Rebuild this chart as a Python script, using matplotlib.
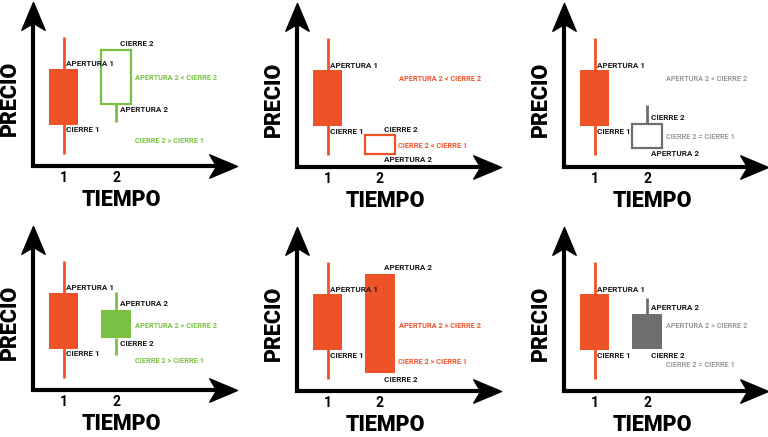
import matplotlib.pyplot as plt
from matplotlib.path import Path

plt.rcParams['font.family'] = ['Roboto', 'DejaVu Sans']

# candle 1 (same in every panel): open, close, high, low
open_1, close_1, high_1, low_1 = 9.7, 4.1, 12.9, 1.2

# candle 2 for each of the six panels
open_2 = [6.2, 1.3, 1.9, 8.0, 11.7, 7.7]
close_2 = [11.6, 3.2, 4.3, 5.2, 1.8, 4.2]
high_2 = [11.6, 3.2, 6.2, 9.8, 11.7, 9.3]
low_2 = [4.4, 1.3, 1.9, 3.5, 1.8, 4.2]
filled_2 = [False, False, False, True, True, True]

note_top = ['APERTURA 2 < CIERRE 2', 'APERTURA 2 < CIERRE 2', 'APERTURA 2 < CIERRE 2',
            'APERTURA 2 > CIERRE 2', 'APERTURA 2 > CIERRE 2', 'APERTURA 2 > CIERRE 2']
note_bottom = ['CIERRE 2 > CIERRE 1', 'CIERRE 2 < CIERRE 1', 'CIERRE 2 = CIERRE 1',
               'CIERRE 2 > CIERRE 1', 'CIERRE 2 > CIERRE 1', 'CIERRE 2 = CIERRE 1']
time_labels = ['1', '2']

# layout
RED = '#f05228'
GREEN = '#7ac143'
GRAY = '#6e6e6e'
GRAY_TXT = '#8c8c8c'
panel_color = [GREEN, RED, GRAY, GREEN, RED, GRAY]
note_color = [GREEN, RED, GRAY_TXT, GREEN, RED, GRAY_TXT]
note_weight = ['bold', 'bold', 'medium', 'bold', 'bold', 'medium']
origins = [(33, 166), (297, 167), (564, 167), (33, 390), (297, 391), (564, 391)]
note_pos = [((2.36, 8.8), (2.36, 2.5)), ((2.36, 8.8), (2.34, 2.1)), ((2.36, 8.8), (2.36, 3.0)),
            ((2.36, 6.4), (2.36, 2.9)), ((2.36, 6.5), (2.34, 2.9)), ((2.36, 6.5), (2.36, 2.6))]

W, H = 768, 437
AX_W, AX_H = 204, 164
X0 = 1 - 30.5 / 52.5
BODY_W = 0.57

# notched arrow heads, tip at the origin
up_head = Path([(0, 0), (0.42, -1), (0, -0.75), (-0.42, -1), (0, 0)],
               [Path.MOVETO, Path.LINETO, Path.LINETO, Path.LINETO, Path.CLOSEPOLY])
right_head = Path([(0, 0), (-1, 0.42), (-0.75, 0), (-1, -0.42), (0, 0)],
                  [Path.MOVETO, Path.LINETO, Path.LINETO, Path.LINETO, Path.CLOSEPOLY])

fig = plt.figure(figsize=(W / 100, H / 100), dpi=100)
fig.patch.set_facecolor('white')


def label(ax, x, y, s):
    ax.text(x, y, s, fontsize=5.9, fontweight='bold', color='#1a1a1a', va='center',
            ha='left', zorder=5)


for i, (ox, oy) in enumerate(origins):
    ax = fig.add_axes([ox / W, (H - oy) / H, AX_W / W, AX_H / H])
    ax.set_xlim(X0, X0 + AX_W / 52.5)
    ax.set_ylim(0, 16.4)
    for s in ax.spines.values():
        s.set_visible(False)
    ax.patch.set_alpha(0)

    # axes with arrows
    ax.plot([0, 0], [0, 0.9], color='black', lw=3, transform=ax.transAxes, clip_on=False,
            solid_capstyle='butt')
    ax.plot([0, 0.93], [0, 0], color='black', lw=3, transform=ax.transAxes, clip_on=False,
            solid_capstyle='projecting')
    ax.plot([0], [1], marker=up_head, markersize=40, color='black', transform=ax.transAxes,
            clip_on=False)
    ax.plot([1], [0], marker=right_head, markersize=40, color='black', transform=ax.transAxes,
            clip_on=False)

    # candle 1 (bearish, red)
    ax.vlines(1, low_1, high_1, color=RED, lw=2, zorder=2)
    ax.bar(1, open_1 - close_1, bottom=close_1, width=BODY_W, color=RED, zorder=3)
    label(ax, 1.04, open_1 + 0.5, 'APERTURA 1')
    label(ax, 1.05, close_1 - 0.5, 'CIERRE 1')

    # candle 2
    c = panel_color[i]
    top = max(open_2[i], close_2[i])
    bot = min(open_2[i], close_2[i])
    if high_2[i] > top:
        ax.vlines(2, top, high_2[i], color=c, lw=2, zorder=2)
    if low_2[i] < bot:
        ax.vlines(2, low_2[i], bot, color=c, lw=2, zorder=2)
    if filled_2[i]:
        ax.bar(2, top - bot, bottom=bot, width=BODY_W, color=c, zorder=3)
    else:
        ax.bar(2, top - bot, bottom=bot, width=BODY_W, facecolor='white', edgecolor=c,
               lw=1.6, zorder=3)
    if open_2[i] > close_2[i]:
        top_txt, bot_txt = 'APERTURA 2', 'CIERRE 2'
    else:
        top_txt, bot_txt = 'CIERRE 2', 'APERTURA 2'
    label(ax, 2.07, top + 0.6, top_txt)
    label(ax, 2.07, bot - 0.6, bot_txt)

    # comparison notes
    (tx, ty), (bx, by) = note_pos[i]
    ax.text(tx, ty, note_top[i], fontsize=5.3, fontweight=note_weight[i], color=note_color[i],
            va='center', ha='left')
    ax.text(bx, by, note_bottom[i], fontsize=5.3, fontweight=note_weight[i], color=note_color[i],
            va='center', ha='left')

    ax.set_xticks([1, 2])
    ax.set_xticklabels(time_labels, fontsize=10, fontweight='bold')
    ax.set_yticks([])
    ax.tick_params(axis='x', length=0, pad=3.5)

    ax.text(88 / AX_W, -34 / AX_H, 'TIEMPO', transform=ax.transAxes, fontsize=15.5,
            fontweight='black', ha='center', va='center')
    ax.text(-23.5 / AX_W, 68 / AX_H, 'PRECIO', transform=ax.transAxes, fontsize=15.5,
            fontweight='black', ha='center', va='center', rotation=90)

fig.savefig('out.png', dpi=100, facecolor='white')
